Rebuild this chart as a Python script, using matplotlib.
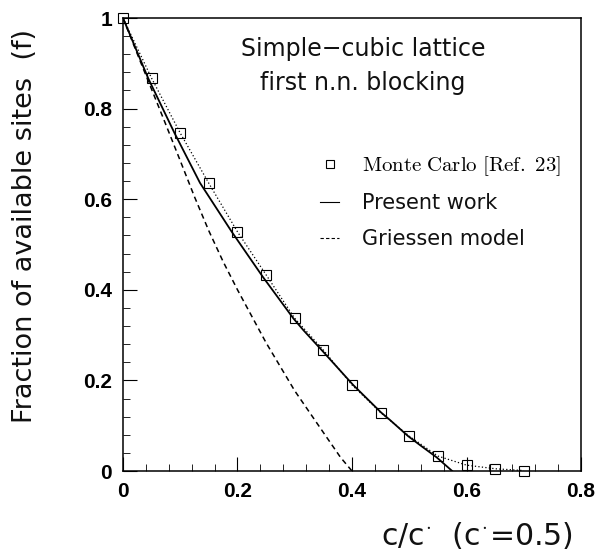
import numpy as np
import matplotlib.pyplot as plt
from matplotlib.lines import Line2D
from matplotlib.ticker import MultipleLocator

plt.rcParams['mathtext.fontset'] = 'cm'

###Monte Carlo points [Ref. 23]
mc_x = [0.0, 0.05, 0.10, 0.15, 0.20, 0.25, 0.30, 0.35, 0.40, 0.45, 0.50, 0.55, 0.60, 0.65, 0.70]
mc_f = [1.0, 0.867, 0.746, 0.635, 0.528, 0.433, 0.337, 0.267, 0.190, 0.129, 0.077, 0.033, 0.013, 0.005, 0.001]

###Present work curve
present_x = [0.0, 0.044, 0.090, 0.1345, 0.190, 0.244, 0.2975, 0.315, 0.347, 0.402, 0.451, 0.466, 0.498, 0.519, 0.548, 0.575]
present_f = [1.0, 0.867, 0.746, 0.636, 0.528, 0.429, 0.337, 0.311, 0.267, 0.190, 0.129, 0.113, 0.077, 0.057, 0.030, 0.0]

###Griessen model curve
griessen_x = [0.0, 0.03, 0.07, 0.10, 0.125, 0.15, 0.175, 0.20, 0.25, 0.30, 0.35, 0.38, 0.40]
griessen_f = [1.0, 0.905, 0.78, 0.685, 0.605, 0.53, 0.462, 0.40, 0.283, 0.177, 0.085, 0.03, 0.0]

###Axis ticks
xticks = [0, 0.2, 0.4, 0.6, 0.8]
xticklabels = ['0', '0.2', '0.4', '0.6', '0.8']
yticks = [0, 0.2, 0.4, 0.6, 0.8, 1.0]
yticklabels = ['0', '0.2', '0.4', '0.6', '0.8', '1']

sans = dict(family='DejaVu Sans', weight='normal', color='#111111')
tickfont = dict(fontfamily='Liberation Sans', fontweight='bold', fontsize=15)

fig = plt.figure(figsize=(5.95, 5.54), dpi=100)
ax = fig.add_axes([0.2067, 0.1498, 0.7698, 0.8177])

ax.plot(mc_x, mc_f, color='black', lw=0.9, ls=(0, (1, 1.8)))
ax.plot(present_x, present_f, color='black', lw=1.3)
ax.plot(griessen_x, griessen_f, color='black', lw=1.1, ls=(0, (3.5, 2.5)))
ax.plot(mc_x, mc_f, ls='none', marker='s', ms=6.5, mfc='none', mec='black', mew=0.8, clip_on=False, zorder=5)

ax.set_xlim(0, 0.8)
ax.set_ylim(0, 1)
ax.set_xticks(xticks)
ax.set_xticklabels(xticklabels, **tickfont)
ax.set_yticks(yticks)
ax.set_yticklabels(yticklabels, **tickfont)
ax.xaxis.set_minor_locator(MultipleLocator(0.04))
ax.yaxis.set_minor_locator(MultipleLocator(0.04))
ax.tick_params(which='major', direction='in', length=10, width=0.8, top=False, right=False)
ax.tick_params(which='minor', direction='in', length=5, width=0.6, top=False, right=False)
ax.tick_params(axis='x', pad=8)
ax.tick_params(axis='y', pad=8)
for sp in ax.spines.values():
	sp.set_linewidth(1.1)

ax.text(0.524, 0.932, 'Simple\u2212cubic lattice', transform=ax.transAxes, ha='center', va='center', fontsize=17, **sans)
ax.text(0.524, 0.857, 'first n.n. blocking', transform=ax.transAxes, ha='center', va='center', fontsize=17, **sans)

###Legend
handles = [Line2D([], [], ls='none', marker='s', ms=6, mfc='none', mec='black', mew=0.8),
	Line2D([], [], color='black', lw=0.8),
	Line2D([], [], color='black', lw=0.8, ls=(0, (3, 2)))]
labels = [r'$\mathrm{Monte\ Carlo\ [Ref.\ 23]}$', 'Present work', 'Griessen model']
leg = ax.legend(handles, labels, loc='center left', bbox_to_anchor=(0.39, 0.595), frameon=False,
	handlelength=0.9, handletextpad=1.1, labelspacing=0.75, fontsize=15)
for t in leg.get_texts()[1:]:
	t.set_fontfamily('DejaVu Sans')
	t.set_color('#111111')

fig.text(0.042, 0.592, 'Fraction of available sites  (f)', rotation=90, ha='center', va='center', fontsize=19.5, **sans)
fig.text(0.963, 0.006, r'c/c$^{\cdot}$  (c$^{\cdot}$=0.5)', ha='right', va='bottom', fontsize=21.5, **sans)

fig.savefig('out.png', dpi=100)
